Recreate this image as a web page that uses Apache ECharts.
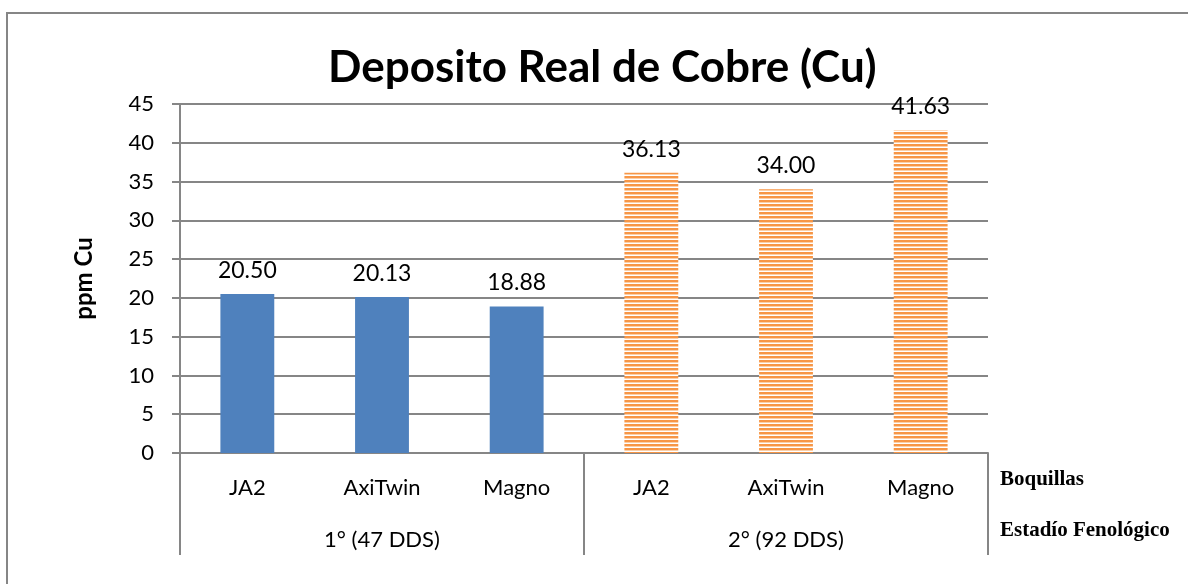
<!doctype html>
<html>
<head>
	<meta charset="utf-8">
	<script type="text/javascript" src="https://cdn.jsdelivr.net/npm/echarts@6/dist/echarts.min.js"></script>
	<style>
		html, body { margin: 0; padding: 0; background: #fff; }
		#main { width: 1188px; height: 584px; }
	</style>
</head>
<body>
<div id="main"></div>
<script>
	// datos
	var boquillas = ['JA2', 'AxiTwin', 'Magno', 'JA2', 'AxiTwin', 'Magno'];
	var estadios = ['1° (47 DDS)', '2° (92 DDS)'];
	var valores = [20.50, 20.13, 18.88, 36.13, 34.00, 41.63];
	var yTicks = [0, 5, 10, 15, 20, 25, 30, 35, 40, 45];

	// trama de rayas horizontales para el 2° estadio
	function rayas() {
		var c = document.createElement('canvas');
		c.width = 4; c.height = 4;
		var ctx = c.getContext('2d');
		ctx.fillStyle = '#ffffff';
		ctx.fillRect(0, 0, 4, 4);
		ctx.fillStyle = '#F79646';
		ctx.fillRect(0, 0, 4, 2);
		ctx.fillStyle = '#FBCFA8';
		ctx.fillRect(0, 2, 4, 1);
		return c;
	}
	var patron = { image: rayas(), repeat: 'repeat' };

	var datos = [];
	for (var i = 0; i < valores.length; i++) {
		datos.push({
			value: valores[i],
			itemStyle: { color: i < 3 ? '#4F81BD' : patron }
		});
	}

	var gris = '#868686';
	var fuente = 'Lato, "Open Sans", sans-serif';

	var myChart = echarts.init(document.getElementById('main'));
	var option = {
		animation: false,
		title: {
			text: 'Deposito Real de Cobre (Cu)',
			left: 323,
			top: 41,
			textStyle: { fontFamily: fuente, fontWeight: 'bold', fontSize: 44, color: '#000' }
		},
		grid: { left: 180, right: 200, top: 104, bottom: 131 },
		xAxis: [{
			type: 'category',
			data: boquillas,
			axisLine: { show: true, lineStyle: { color: gris, width: 2 } },
			axisTick: { show: false },
			axisLabel: { interval: 0, margin: 24, color: '#000', fontSize: 22, fontFamily: fuente }
		}, {
			type: 'category',
			data: estadios,
			position: 'bottom',
			axisLine: { show: false },
			axisTick: { show: true, length: 102, lineStyle: { color: gris, width: 2 } },
			axisLabel: { interval: 0, margin: 76, color: '#000', fontSize: 22, fontFamily: fuente }
		}],
		yAxis: {
			type: 'value',
			min: yTicks[0],
			max: yTicks[yTicks.length - 1],
			interval: 5,
			name: 'ppm Cu',
			nameLocation: 'middle',
			nameRotate: 90,
			nameGap: 84,
			nameTextStyle: { fontFamily: fuente, fontWeight: 'bold', fontSize: 24, color: '#000' },
			axisLine: { show: true, lineStyle: { color: gris, width: 2 } },
			axisTick: { show: true, length: 8, lineStyle: { color: gris, width: 2 } },
			axisLabel: { margin: 26, color: '#000', fontSize: 22, fontFamily: fuente },
			splitLine: { show: true, lineStyle: { color: gris, width: 2 } }
		},
		series: [{
			type: 'bar',
			xAxisIndex: 0,
			data: datos,
			barWidth: '40%',
			label: {
				show: true,
				position: 'top',
				distance: 12,
				color: '#000',
				fontSize: 23,
				fontFamily: fuente,
				formatter: function (p) { return p.value.toFixed(2); }
			}
		}],
		graphic: [{
			type: 'rect',
			shape: { x: 7, y: 13, width: 1400, height: 800 },
			style: { fill: null, stroke: gris, lineWidth: 2 },
			silent: true
		}, {
			type: 'text',
			left: 1000, top: 469,
			style: { text: 'Boquillas', font: 'bold 21px "Liberation Serif", serif', fill: '#000' }
		}, {
			type: 'text',
			left: 1000, top: 520,
			style: { text: 'Estadío Fenológico', font: 'bold 21px "Liberation Serif", serif', fill: '#000' }
		}]
	};
	myChart.setOption(option);
</script>
</body>
</html>
